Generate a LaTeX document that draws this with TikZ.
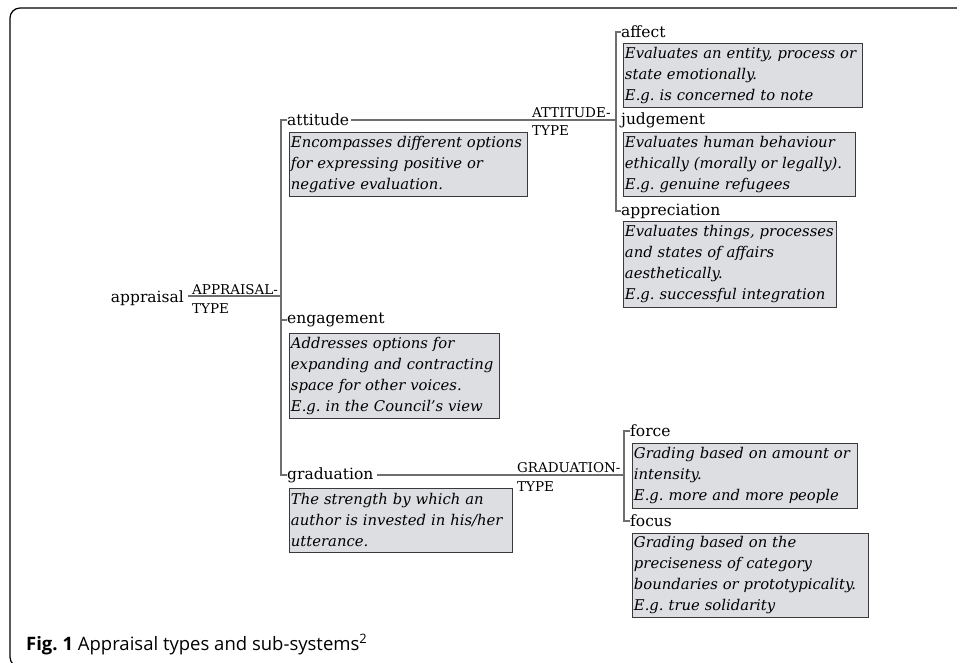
\documentclass[tikz,border=0pt]{standalone}
\usepackage{fontspec}
\setmainfont{DejaVu Serif}
\newfontfamily\capfont{Open Sans}
\usetikzlibrary{positioning}
\definecolor{linegray}{HTML}{6E6E6E}
\definecolor{boxfill}{HTML}{DDDEE2}
\definecolor{boxline}{HTML}{3A3A3A}
\frenchspacing
\tikzset{%
 term/.style={inner sep=0pt, anchor=west, font=\fontsize{15.5}{18}\selectfont},
 systype/.style={inner sep=0pt, anchor=base west, font=\fontsize{13.5}{16}\selectfont},
 gloss/.style={draw=boxline, fill=boxfill, line width=.9pt, anchor=north west,
   inner xsep=1.5pt, inner ysep=0pt, align=left,
   font=\fontsize{14.8}{21}\selectfont\itshape},
 conn/.style={draw=linegray, line width=1.3pt}
}

\begin{document}
\begin{tikzpicture}[x=1pt, y=-1pt]
 \clip (0,0) rectangle (957,662);
 % frame of the figure
 \draw [line width=1.2pt, rounded corners=10pt] (980,8) -- (10,8) -- (10,667) -- (40,667);

 % appraisal system
 \node [term, anchor=east] (appraisal) at (184,298) {appraisal};
 \coordinate (appjoin) at (281,296);
 \draw [conn] (appjoin -| appraisal.east) ++(4,0) -- (appjoin);
 \node [systype] (apptop) at (192,294) {APPRAISAL-};
 \node [systype] (appbot) at (192,313) {TYPE};

 \node [term] (attitude) at (287,120) {attitude};
 \node [term] (engagement) at (287,320) {engagement};
 \node [term] (graduation) at (287,475) {graduation};
 \draw [conn] (attitude.west) -- ++(-6,0) |- (graduation.west);
 \draw [conn] (engagement.west) -- ++(-6,0);

 % attitude system
 \node [term] (affect) at (621,32) {affect};
 \node [term] (judgement) at (621,120) {judgement};
 \node [term] (appreciation) at (621,211) {appreciation};
 \draw [conn] ([xshift=2pt]attitude.east) -- ([xshift=-5pt]judgement.west);
 \draw [conn] (affect.west) -- ++(-5,0) |- (appreciation.west);
 \node [systype] (atttop) at (532,117) {ATTITUDE-};
 \node [systype] (attbot) at (532,135) {TYPE};

 % graduation system
 \node [term] (force) at (630,431) {force};
 \node [term] (focus) at (630,521) {focus};
 \coordinate (gradjoin) at (624,475);
 \draw [conn] ([xshift=3pt]graduation.east) -- (gradjoin);
 \draw [conn] (force.west) -- ++(-6,0) |- (focus.west);
 \node [systype] (gradtop) at (517,472) {GRADUATION-};
 \node [systype] (gradbot) at (517,491) {TYPE};

 % glosses
 \node [gloss, text width=235pt, minimum height=64pt] (attbox) at (289,132)
  {Encompasses different options\\for expressing positive or\\negative evaluation.};
 \node [gloss, text width=207pt, minimum height=85pt] (engbox) at (289,333)
  {Addresses options for\\expanding and contracting\\space for other voices.\\E.g. in the Council's view};
 \node [gloss, text width=220pt, minimum height=64pt] (gradbox) at (289,488)
  {The strength by which an\\author is invested in his/her\\utterance.};
 \node [gloss, text width=236pt, minimum height=64pt] (affbox) at (623,43)
  {Evaluates an entity, process or\\state emotionally.\\E.g. is concerned to note};
 \node [gloss, text width=229pt, minimum height=64pt] (judbox) at (623,132)
  {Evaluates human behaviour\\ethically (morally or legally).\\E.g. genuine refugees};
 \node [gloss, text width=210pt, minimum height=86pt] (appbox) at (623,221)
  {Evaluates things, processes\\and states of affairs\\aesthetically.\\E.g. successful integration};
 \node [gloss, text width=222pt, minimum height=65pt] (forbox) at (632,443)
  {Grading based on amount or\\intensity.\\E.g. more and more people};
 \node [gloss, text width=233pt, minimum height=84pt] (focbox) at (632,533)
  {Grading based on the\\preciseness of category\\boundaries or prototypicality.\\E.g. true solidarity};

 \node [anchor=base west, inner sep=0pt, font=\capfont\fontsize{18.5}{22}\selectfont] (caption) at (26,650)
  {\textbf{Fig. 1} Appraisal types and sub-systems\textsuperscript{2}};
\end{tikzpicture}
\end{document}
